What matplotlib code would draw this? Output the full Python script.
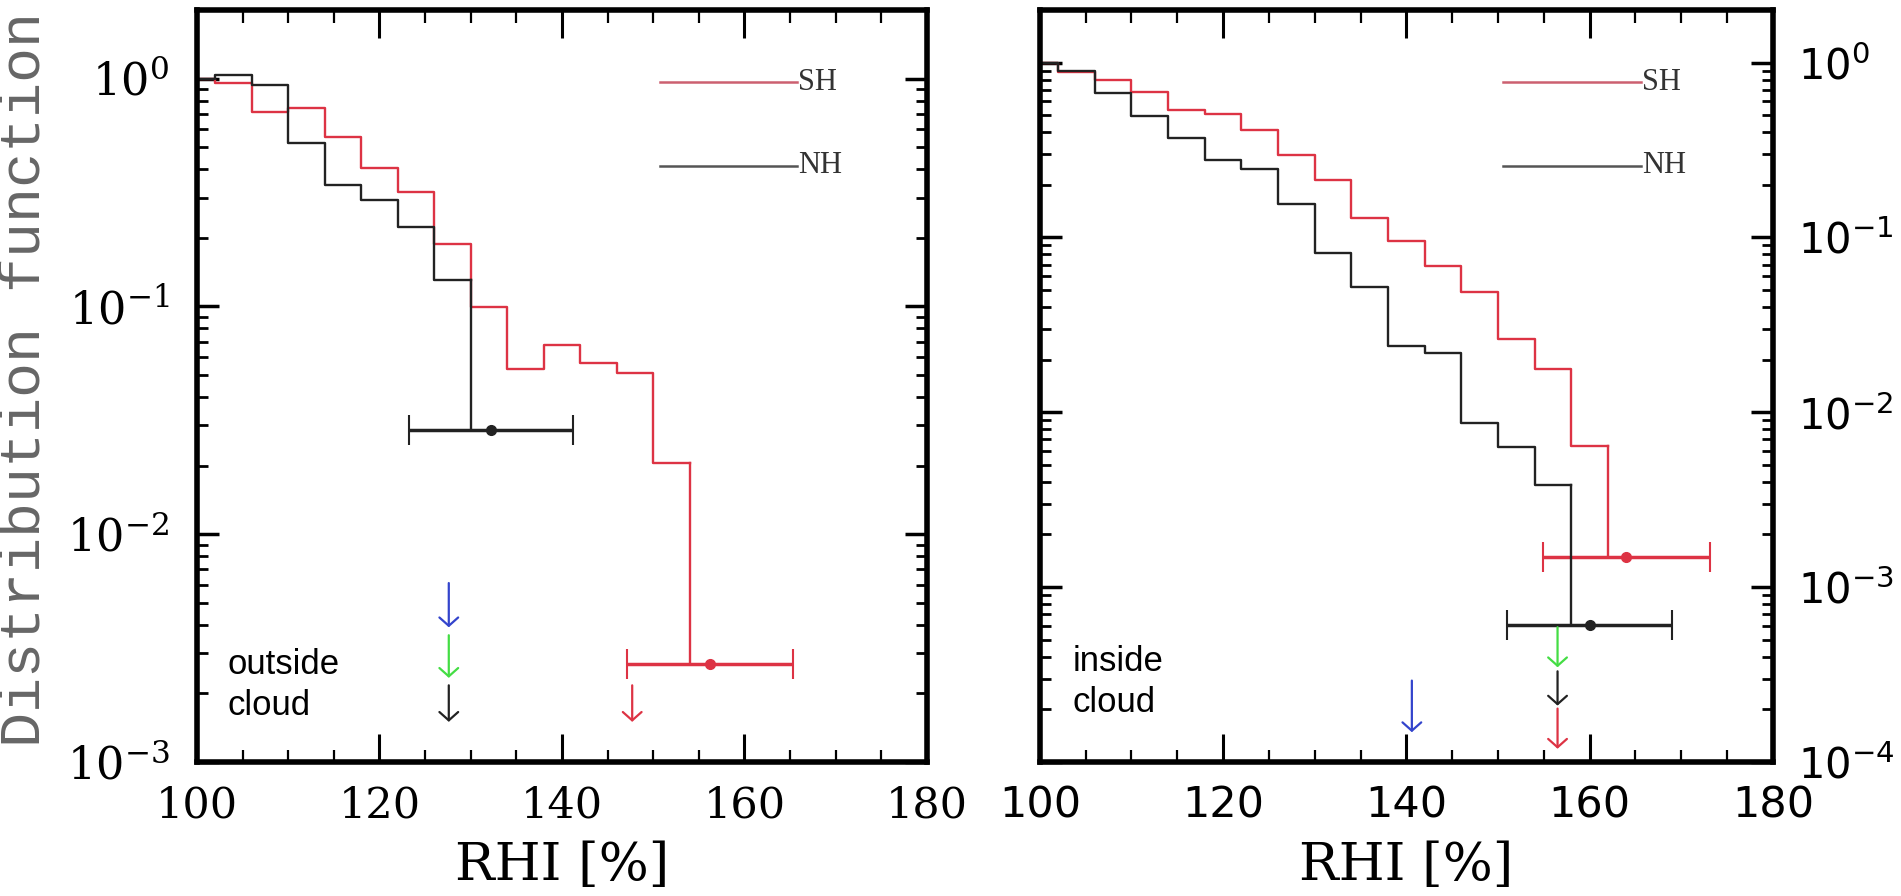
import matplotlib
matplotlib.use('Agg')
import matplotlib.pyplot as plt
from matplotlib.ticker import MultipleLocator, LogLocator, FixedLocator, FixedFormatter, NullFormatter

plt.rcParams['mathtext.fontset'] = 'dejavuserif'

# outside cloud (left panel)
edges_sh_out = [100, 102, 106, 110, 114, 118, 122, 126, 130, 134, 138, 142, 146, 150, 154]
sh_out = [1.0, 0.96, 0.71, 0.74, 0.555, 0.405, 0.318, 0.187, 0.0997, 0.053, 0.0677, 0.0566, 0.0508, 0.0206]
edges_nh_out = [100, 102, 106, 110, 114, 118, 122, 126, 130]
nh_out = [1.0, 1.04, 0.94, 0.52, 0.34, 0.294, 0.224, 0.131]
err_sh_out = (156.2, 0.0027, 9.1)   # x, y, half width
err_nh_out = (132.2, 0.0287, 9.0)
arrows_out = [  # x, y_start, y_end, colour
    (127.6, 0.0061, 0.0039, '#3344cc'),
    (127.6, 0.0036, 0.00234, '#44dd44'),
    (127.6, 0.00217, 0.0015, '#222222'),
    (147.7, 0.00217, 0.0015, '#dd3344'),
]

# inside cloud (right panel)
edges_sh_in = [100, 102, 106, 110, 114, 118, 122, 126, 130, 134, 138, 142, 146, 150, 154, 158, 162]
sh_in = [1.0, 0.88, 0.79, 0.68, 0.539, 0.505, 0.409, 0.298, 0.214, 0.130, 0.0953, 0.0686, 0.0489, 0.0261, 0.0176, 0.0064]
edges_nh_in = [100, 102, 106, 110, 114, 118, 122, 126, 130, 134, 138, 142, 146, 150, 154, 158]
nh_in = [1.0, 0.89, 0.67, 0.494, 0.372, 0.279, 0.247, 0.156, 0.0817, 0.0523, 0.0239, 0.0219, 0.00873, 0.00634, 0.00383]
err_sh_in = (164.0, 0.00148, 9.1)
err_nh_in = (160.0, 0.00061, 9.0)
arrows_in = [
    (140.6, 0.000292, 0.000148, '#3344cc'),
    (156.5, 0.00059, 0.000348, '#44dd44'),
    (156.5, 0.00033, 0.00021, '#222222'),
    (156.5, 0.000202, 0.000119, '#dd3344'),
]

RED = '#dd3344'
BLACK = '#222222'

fig = plt.figure(figsize=(19.01, 8.96), dpi=100)
ax1 = fig.add_axes([0.1036, 0.1496, 0.384, 0.8393])
ax2 = fig.add_axes([0.547, 0.1496, 0.3856, 0.8393])


def draw_hist(ax, edges, vals, err, color):
    ax.step(edges, vals + [vals[-1]], where='post', color=color, lw=1.7)
    # drop from last bin down to the error bar
    ax.plot([edges[-1], edges[-1]], [vals[-1], err[1]], color=color, lw=1.7)
    ax.errorbar(err[0], err[1], xerr=err[2], fmt='o', color=color, ms=7,
                elinewidth=2.5, capsize=11, capthick=1.5)


def draw_arrows(ax, arrows):
    for x, y0, y1, c in arrows:
        ax.annotate('', xy=(x, y1), xytext=(x, y0),
                    arrowprops=dict(arrowstyle='->,head_length=0.4,head_width=0.45',
                                    color=c, lw=1.6, shrinkA=0, shrinkB=0,
                                    mutation_scale=15))


def style_axes(ax, ylo, labels_right):
    ax.set_yscale('log')
    ax.set_xlim(100, 180)
    ax.set_ylim(ylo, 2.0)
    for s in ax.spines.values():
        s.set_linewidth(4)
    ax.xaxis.set_major_locator(MultipleLocator(20))
    ax.xaxis.set_minor_locator(MultipleLocator(5))
    ax.yaxis.set_minor_locator(LogLocator(base=10, subs=range(2, 10)))
    ax.yaxis.set_minor_formatter(NullFormatter())
    ax.tick_params(which='both', direction='in', top=True, right=True, left=True, bottom=True)
    ax.tick_params(axis='x', which='major', length=20, width=2.2, pad=16, labelsize=31)
    ax.tick_params(axis='x', which='minor', length=9, width=1.6)
    ax.tick_params(axis='y', which='major', length=16, width=2.5, pad=18, labelsize=30)
    ax.tick_params(axis='y', which='minor', length=8, width=2)
    if labels_right:
        ax.tick_params(labelleft=False, labelright=True)


# left panel
draw_hist(ax1, edges_sh_out, sh_out, err_sh_out, RED)
draw_hist(ax1, edges_nh_out, nh_out, err_nh_out, BLACK)
draw_arrows(ax1, arrows_out)
style_axes(ax1, 1e-3, False)
ax1.tick_params(axis='y', which='major', labelsize=32, pad=20)
dec1 = [1e-3, 1e-2, 1e-1, 1e0]
ax1.yaxis.set_major_locator(FixedLocator(dec1))
ax1.yaxis.set_major_formatter(FixedFormatter([r'$\mathrm{10^{-3}}$', r'$\mathrm{10^{-2}}$',
                                              r'$\mathrm{10^{-1}}$', r'$\mathrm{10^{0}}$']))
for t in ax1.get_xticklabels():
    t.set_fontfamily('DejaVu Serif')
ax1.set_xlabel('RHI [%]', fontsize=38, family='DejaVu Serif', labelpad=10)
ax1.set_ylabel('Distribution function', fontsize=42, family='Liberation Mono', color='#666666')
ax1.yaxis.set_label_coords(-0.199, 0.508)
ax1.text(0.042, 0.102, 'outside\ncloud', transform=ax1.transAxes, fontsize=25,
         family='Liberation Sans', va='center', ha='left', linespacing=1.3)

# right panel
draw_hist(ax2, edges_sh_in, sh_in, err_sh_in, RED)
draw_hist(ax2, edges_nh_in, nh_in, err_nh_in, BLACK)
draw_arrows(ax2, arrows_in)
style_axes(ax2, 1e-4, True)
dec2 = [1e-4, 1e-3, 1e-2, 1e-1, 1e0]
ax2.yaxis.set_major_locator(FixedLocator(dec2))
ax2.yaxis.set_major_formatter(FixedFormatter([r'$\mathsf{10^{-4}}$', r'$\mathsf{10^{-3}}$',
                                              r'$\mathsf{10^{-2}}$', r'$\mathsf{10^{-1}}$',
                                              r'$\mathsf{10^{0}}$']))
for t in ax2.get_xticklabels():
    t.set_fontfamily('DejaVu Sans')
ax2.set_xlabel('RHI [%]', fontsize=38, family='DejaVu Serif', labelpad=10)
ax2.text(0.045, 0.106, 'inside\ncloud', transform=ax2.transAxes, fontsize=25,
         family='Liberation Sans', va='center', ha='left', linespacing=1.3)

# SH / NH keys
for ax, x0, x1, xt in [(ax1, 0.634, 0.822, 0.824), (ax2, 0.632, 0.820, 0.822)]:
    ax.plot([x0, x1], [0.904, 0.904], transform=ax.transAxes, color='#cc6070', lw=1.8)
    ax.plot([x0, x1], [0.793, 0.793], transform=ax.transAxes, color='#555555', lw=1.8)
    ax.text(xt, 0.904, 'SH', transform=ax.transAxes, fontsize=22,
            family='Liberation Serif', va='center', ha='left', color='#333333')
    ax.text(xt, 0.793, 'NH', transform=ax.transAxes, fontsize=22,
            family='Liberation Serif', va='center', ha='left', color='#333333')

fig.savefig('out.png', dpi=100)
